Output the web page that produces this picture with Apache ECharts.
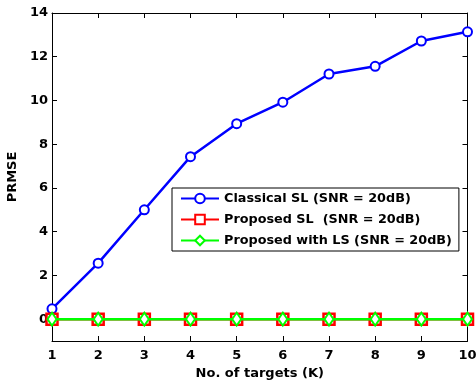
<!DOCTYPE html>
<html><head><meta charset="utf-8">
<script src="https://cdn.jsdelivr.net/npm/echarts@6/dist/echarts.min.js"></script>
<style>html,body{margin:0;padding:0;background:#fff}#c{width:476px;height:381px}</style>
</head><body><div id="c"></div>
<script>
const targets = [1,2,3,4,5,6,7,8,9,10];
const classicalSL = [0.47,2.56,5.0,7.43,8.94,9.92,11.21,11.56,12.72,13.14];
const proposedSL = [0,0,0,0,0,0,0,0,0,0];
const proposedLS = [0,0,0,0,0,0,0,0,0,0];
const yTicks = [0,2,4,6,8,10,12,14];
const xTicks = [1,2,3,4,5,6,7,8,9,10];
const seriesNames = ['Classical SL (SNR = 20dB)','Proposed SL  (SNR = 20dB)','Proposed with LS (SNR = 20dB)'];

const FONT = 'DejaVu Sans';
const chart = echarts.init(document.getElementById('c'));
const pair = arr => targets.map((k,i)=>[k,arr[i]]);
const baseX = {type:'value',min:1,max:10,interval:1};
const baseY = {type:'value',min:-1,max:14};
chart.setOption({
  animation:false,
  backgroundColor:'#fff',
  grid:{left:52,right:8.5,top:13,bottom:40,containLabel:false,outerBoundsMode:'none'},
  xAxis:[
    Object.assign({},baseX,{position:'bottom',
      name:'No. of targets (K)',nameLocation:'middle',nameGap:25,
      nameTextStyle:{fontFamily:FONT,fontWeight:'bold',fontSize:13,color:'#000'},
      axisLine:{onZero:false,lineStyle:{color:'#000',width:1}},
      axisTick:{inside:true,length:5,lineStyle:{color:'#000'}},
      axisLabel:{fontFamily:FONT,fontWeight:'bold',fontSize:13,color:'#000',margin:8},
      splitLine:{show:false}}),
    Object.assign({},baseX,{position:'top',
      axisLine:{onZero:false,lineStyle:{color:'#000',width:1}},
      axisTick:{inside:true,length:5,lineStyle:{color:'#000'}},
      axisLabel:{show:false},splitLine:{show:false}})
  ],
  yAxis:[
    Object.assign({},baseY,{position:'left',
      name:'PRMSE',nameLocation:'middle',nameGap:29,
      nameTextStyle:{fontFamily:FONT,fontWeight:'bold',fontSize:13,color:'#000'},
      axisLine:{onZero:false,lineStyle:{color:'#000',width:1}},
      axisTick:{inside:true,length:5,customValues:yTicks,lineStyle:{color:'#000'}},
      axisLabel:{fontFamily:FONT,fontWeight:'bold',fontSize:13,color:'#000',margin:4,customValues:yTicks},
      splitLine:{show:false}}),
    Object.assign({},baseY,{position:'right',
      axisLine:{onZero:false,lineStyle:{color:'#000',width:1}},
      axisTick:{inside:true,length:5,customValues:yTicks,lineStyle:{color:'#000'}},
      axisLabel:{show:false},splitLine:{show:false}})
  ],
  legend:{
    orient:'vertical',left:172,top:188,
    data:seriesNames,
    backgroundColor:'#fff',borderColor:'#000',borderWidth:1,
    padding:[4,7,4,8],itemWidth:38,itemHeight:12,itemGap:8,
    textStyle:{fontFamily:FONT,fontWeight:'bold',fontSize:12.8,color:'#000'}
  },
  series:[
    {name:seriesNames[0],type:'line',data:pair(classicalSL),symbol:'circle',symbolSize:9,
     lineStyle:{color:'#0000ff',width:2.5},itemStyle:{color:'#fff',borderColor:'#0000ff',borderWidth:2},z:3},
    {name:seriesNames[1],type:'line',data:pair(proposedSL),symbol:'rect',symbolSize:11,
     lineStyle:{color:'#ff0000',width:2.5},itemStyle:{color:'#fff',borderColor:'#ff0000',borderWidth:2.5},z:4},
    {name:seriesNames[2],type:'line',data:pair(proposedLS),symbol:'diamond',symbolSize:[9,13],
     lineStyle:{color:'#00ff00',width:2.5},itemStyle:{color:'#fff',borderColor:'#00ff00',borderWidth:2},z:5}
  ]
});
</script></body></html>
